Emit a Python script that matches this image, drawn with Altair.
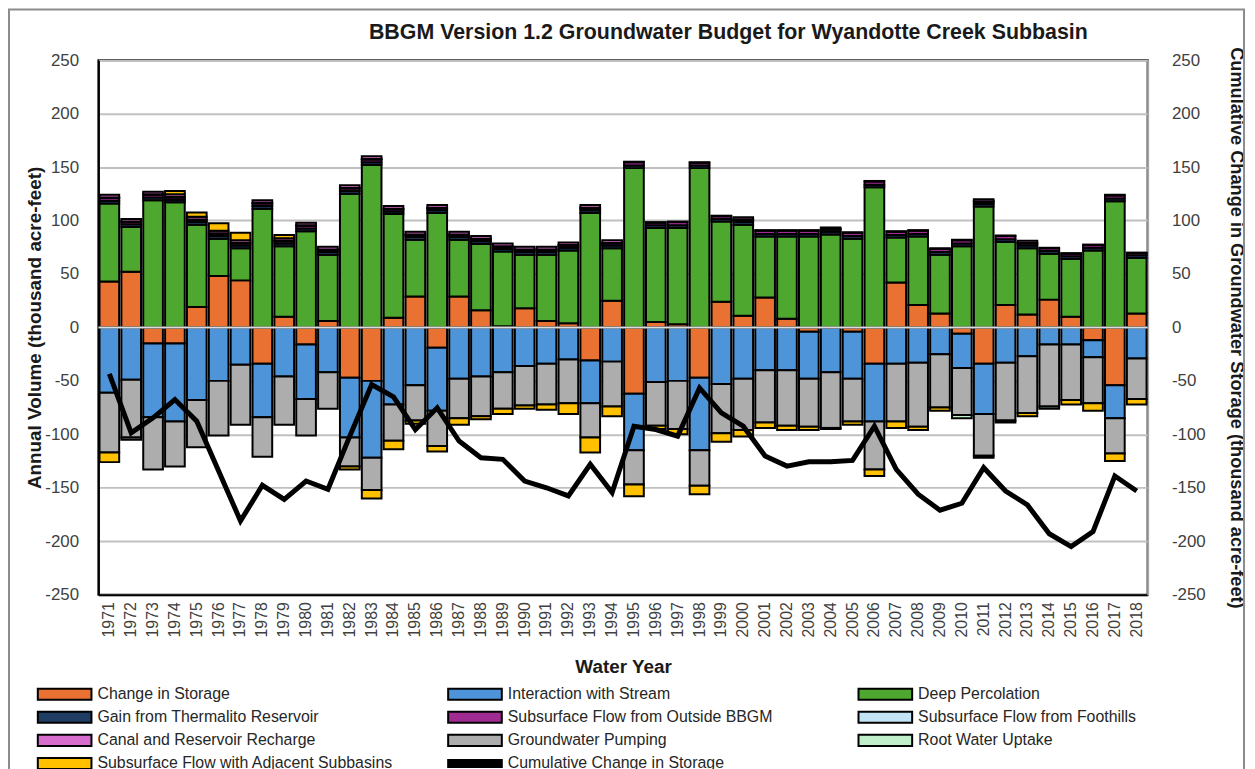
import altair as alt
import pandas as pd

years = list(range(1971, 2019))

components = [
    "Change in Storage", "Interaction with Stream", "Deep Percolation",
    "Gain from Thermalito Reservoir", "Subsurface Flow from Outside BBGM",
    "Subsurface Flow from Foothills", "Canal and Reservoir Recharge",
    "Groundwater Pumping", "Root Water Uptake",
    "Subsurface Flow with Adjacent Subbasins", "Cumulative Change in Storage",
]
colors = ["#E97132", "#4D94D8", "#4EA72E", "#1F3D63", "#A02B93", "#C3E4F5",
          "#D86DCD", "#ADADAD", "#C2EFCB", "#FFC000", "#000000"]

change_in_storage = [43, 52, -15, -15, 19, 48, 44, -34, 10, -16,
                     6, -47, -50, 9, 29, -19, 29, 16, 1, 18,
                     6, 4, -31, 25, -62, 5, 3, -47, 24, 11,
                     28, 8, -4, 0, -4, -34, 42, 21, 13, -6,
                     -34, 21, 12, 26, 10, -12, -54, 13]
interaction_stream = [-61, -49, -69, -73, -68, -50, -35, -50, -46, -51,
                      -42, -56, -72, -72, -54, -59, -48, -46, -42, -36,
                      -34, -30, -40, -32, -53, -51, -50, -68, -53, -48,
                      -40, -40, -44, -42, -44, -54, -34, -33, -25, -32,
                      -47, -33, -27, -16, -16, -16, -31, -29]
deep_percolation = [73, 42, 119, 117, 77, 35, 30, 111, 66, 90,
                    62, 125, 152, 97, 53, 107, 53, 62, 70, 50,
                    62, 68, 107, 49, 149, 88, 90, 149, 75, 85,
                    57, 77, 85, 87, 83, 131, 42, 64, 55, 76,
                    113, 59, 62, 43, 54, 72, 118, 52]
thermalito = [2.5, 2.5, 2.5, 2.5, 2.5, 2.5, 2.5, 2.5, 2.5, 2.5,
              2.5, 2.5, 2.5, 2.5, 2.5, 2.5, 2.5, 2.5, 2.5, 2.5,
              2.5, 2.5, 2.5, 2.5, 2.5, 2.5, 2.5, 2.5, 2.5, 2.5,
              2.5, 2.5, 2.5, 2.5, 2.5, 2.5, 2.5, 2.5, 2.5, 2.5,
              2.5, 2.5, 2.5, 2.5, 2.5, 2.5, 2.5, 2.5]
outside_bbgm = [2.5, 2, 2.5, 2, 2, 2, 2, 2.5, 2, 2.5,
                2, 2.5, 2.5, 2, 2, 2, 2, 2, 2, 2,
                2, 2, 2, 2, 3, 2.5, 3, 2.5, 2.5, 2,
                3, 3, 3, 2, 3, 3, 3, 3, 3, 3,
                2, 3, 2, 2.5, 2.5, 2.5, 3, 2]
foothills = [0.5, 0.5, 0.5, 0.5, 0.5, 0.5, 0.5, 0.5, 0.5, 0.5,
             0.5, 0.5, 0.5, 0.5, 0.5, 0.5, 0.5, 0.5, 0.5, 0.5,
             0.5, 0.5, 0.5, 0.5, 0.5, 0.5, 0.5, 0.5, 0.5, 0.5,
             0.5, 0.5, 0.5, 0.5, 0.5, 0.5, 0.5, 0.5, 0.5, 0.5,
             0.5, 0.5, 0.5, 0.5, 0.5, 0.5, 0.5, 0.5]
canal_recharge = [2.5, 2.5, 2.5, 2.5, 2.5, 2.5, 2.5, 2.5, 2.5, 2.5,
                  2.5, 2.5, 2.5, 2.5, 2.5, 2.5, 2.5, 2.5, 2.5, 2.5,
                  2.5, 2.5, 2.5, 2.5, 0, 0, 0, 0, 0, 2,
                  0, 0, 0, 1.5, 0, 0, 0, 0, 0, 0,
                  2, 0, 2, 0, 0, 0, 0, 0]
pumping = [-56, -54, -49, -42, -44, -51, -56, -37, -45, -34,
           -34, -27, -30, -34, -33, -33, -37, -37, -34, -37,
           -38, -41, -32, -42, -32, -41, -45, -33, -46, -48,
           -49, -52, -45, -52, -40, -45, -54, -60, -50, -44,
           -39, -54, -53, -58, -52, -43, -33, -38]
root_uptake = [0, -2, 0, 0, 0, 0, 0, 0, 0, 0,
               0, 0, 0, 0, 0, 0, 0, 0, 0, 0,
               0, 0, 0, 0, 0, 0, 0, 0, 0, 0,
               0, 0, 0, -1, 0, 0, 0, 0, 0, -3,
               -2, -2, 0, -2, 0, 0, 0, 0]
adjacent = [-9, 0, 0, 3, 4, 7, 7, 0, 3, 0,
            0, -3, -8, -8, -3, -5, -6, -3, -5, -3,
            -5, -10, -14, -9, -11, -3, -5, -8, -8, -6,
            -5, -4, -3, 0, -3, -6, -6, -3, -3, 0,
            0, 0, -3, 0, -4, -7, -7, -5]
cumulative = [-43.5, -98.6, -84.6, -67.5, -87.7, -134.3, -181, -147.7, -160.8, -143.7,
              -151.4, -101.7, -53.5, -65, -95.5, -75.2, -106.3, -121.9, -123.4, -143.7,
              -150, -157.6, -128, -154.5, -92.4, -95.5, -101.7, -56.6, -80, -92.4,
              -120.3, -129.7, -125.6, -125.6, -124.4, -92.4, -132.8, -156, -171, -164.5,
              -131.2, -153, -166, -193, -205, -191, -139, -153]

series = [change_in_storage, interaction_stream, deep_percolation, thermalito,
          outside_bbgm, foothills, canal_recharge, pumping, root_uptake, adjacent]

rows = []
for k, vals in enumerate(series):
    for yr, v in zip(years, vals):
        if v != 0:
            rows.append({"year": yr, "component": components[k], "order": k, "value": v})
bars_df = pd.DataFrame(rows)
line_df = pd.DataFrame({"year": years, "cum": cumulative})

FONT = "Liberation Sans"
ticks = [-250, -200, -150, -100, -50, 0, 50, 100, 150, 200, 250]
W, H = 1056, 538

x_axis = alt.Axis(title="Water Year", labelAngle=-90, labelFontSize=16, labelColor="#404040",
                  labelPadding=7, ticks=False, domainColor="black", domainWidth=2,
                  titleFontSize=19, titleFontWeight="bold", titlePadding=21,
                  titleColor="#1a1a1a", labelOverlap=False, grid=False)
xenc = alt.X("year:O", axis=x_axis, scale=alt.Scale(paddingInner=0.1, paddingOuter=0.05))

left_axis = alt.Axis(values=ticks, title="Annual Volume (thousand acre-feet)",
                     labelExpr="'' + datum.value",
                     grid=True, gridColor="#c0c0c0", gridWidth=2,
                     domainColor="black", domainWidth=2, ticks=False,
                     labelPadding=20, labelFontSize=17, labelColor="#404040",
                     titleFontSize=19, titleFontWeight="bold", titleColor="#1a1a1a",
                     titleX=-64, titleY=H / 2, titleBaseline="middle", titleAngle=-90)
yscale = alt.Scale(domain=[-250, 250], nice=False, zero=False)

line_shape = "M-1,-0.5H6.714V0.5H-1Z"
bar_shape = "M-1,-0.8H6.714V0.8H-1Z"

legend = alt.Legend(
    title=None, orient="none", legendX=-62, legendY=630, columns=3, direction="horizontal",
    gridAlign="all", columnPadding=51, rowPadding=3.3,
    symbolType={"expr": f"datum.value === 'Cumulative Change in Storage' ? '{line_shape}' : '{bar_shape}'"},
    symbolSize=196,
    symbolStrokeColor="black", symbolStrokeWidth=2, labelOffset=45,
    labelFontSize=16, labelFont=FONT, labelColor="#262626", labelLimit=500,
    padding=0,
)

bars = alt.Chart(bars_df).mark_bar(stroke="black", strokeWidth=2).encode(
    x=xenc,
    y=alt.Y("value:Q", stack="zero", scale=yscale, axis=left_axis),
    color=alt.Color("component:N", scale=alt.Scale(domain=components, range=colors), legend=legend),
    order=alt.Order("order:Q", sort="ascending"),
)

zero_rule = alt.Chart(pd.DataFrame({"z": [0]})).mark_rule(color="#dcdcdc", strokeWidth=2).encode(
    y=alt.Y("z:Q", scale=yscale, axis=left_axis)
)

frame = alt.Chart(pd.DataFrame({"a": [0]})).mark_rect(
    fillOpacity=0, stroke="#8c8c8c", strokeWidth=2
).encode(x=alt.value(-90), x2=alt.value(1153), y=alt.value(-51), y2=alt.value(725))

left = alt.layer(frame, bars, zero_rule)

line = alt.Chart(line_df).mark_line(color="black", strokeWidth=5).encode(
    x=xenc,
    y=alt.Y("cum:Q", scale=yscale,
            axis=alt.Axis(orient="right", values=ticks, labelExpr="'' + datum.value",
                          title="Cumulative Change in Groundwater Storage (thousand acre-feet)",
                          grid=False, domainColor="#a6a6a6", domainWidth=2, ticks=False,
                          labelPadding=24, labelFontSize=17, labelColor="#404040",
                          titleFontSize=18.3, titleFontWeight="bold", titleColor="#1a1a1a",
                          titleX=88, titleY=H / 2, titleBaseline="middle", titleAngle=90)),
)

chart = alt.layer(left, line).resolve_scale(y="independent").properties(
    width=W, height=H,
    title=alt.TitleParams("BBGM Version 1.2 Groundwater Budget for Wyandotte Creek Subbasin",
                          fontSize=21.5, fontWeight="bold", anchor="middle", dx=106, dy=35,
                          offset=0, frame="group", color="#1a1a1a", font=FONT),
    padding={"left": 91, "top": 50, "right": 100, "bottom": 180},
    autosize=alt.AutoSizeParams(type="none"),
).configure_view(stroke="black", strokeWidth=2).configure_axis(
    labelFont=FONT, titleFont=FONT
).configure_legend(labelFont=FONT)

chart.save("out.html", embed_options={"renderer": "svg", "actions": False})
